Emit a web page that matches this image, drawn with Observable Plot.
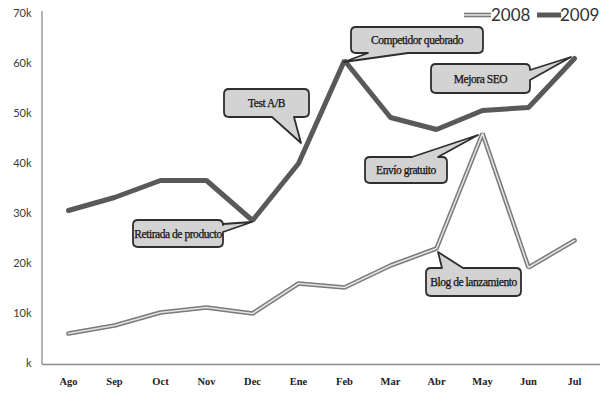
<!DOCTYPE html>
<html><head><meta charset="utf-8">
<script src="https://cdn.jsdelivr.net/npm/d3@7"></script>
<script src="https://cdn.jsdelivr.net/npm/@observablehq/plot@0.6"></script>
<style>
body{margin:0;background:#fff}
#chart{position:relative;width:603px;height:395px;overflow:hidden}
</style>
</head><body><div id="chart"></div>
<script>
// ---- data ----
const months = ["Ago","Sep","Oct","Nov","Dec","Ene","Feb","Mar","Abr","May","Jun","Jul"];
const values2008 = [6000,7600,10200,11200,10000,16000,15200,19600,23000,46000,19200,24600];
const values2009 = [30600,33200,36600,36600,28600,40000,60600,49200,46800,50600,51200,61000];
const seriesNames = ["2008","2009"];
const yTicks = [0,10000,20000,30000,40000,50000,60000,70000];
const yTickLabels = ["k","10k","20k","30k","40k","50k","60k","70k"];
const calloutLabels = ["Test A/B","Competidor quebrado","Mejora SEO","Envío gratuito","Retirada de producto","Blog de lanzamiento"];
const calloutMonths = ["Ene","Feb","Jul","May","Dec","Abr"];
const calloutSeries = ["2009","2009","2009","2008","2009","2008"];

const rows2008 = months.map((m,i)=>({month:m, value:values2008[i], series:seriesNames[0]}));
const rows2009 = months.map((m,i)=>({month:m, value:values2009[i], series:seriesNames[1]}));
const bySeries = {"2008": values2008, "2009": values2009};

const serif = "'Liberation Serif', 'DejaVu Serif', serif";
const sans = "Lato, 'Open Sans', sans-serif";

const plot = Plot.plot({
  width: 603, height: 395,
  marginLeft: 42, marginRight: 3, marginTop: 13, marginBottom: 32,
  x: {type: "point", domain: months, padding: 0.5, axis: null},
  y: {domain: [0, 70000], axis: null},
  style: {background: "white"},
  marks: [
    Plot.ruleY([0], {stroke: "#8a8a8a", strokeWidth: 1.3, dy: 1}),
    Plot.text(yTicks, {y: d => d, text: (d,i) => yTickLabels[i], frameAnchor: "left", dx: -11, textAnchor: "end",
      fontFamily: sans, fontSize: 11, fill: "#3a3a3a"}),
    Plot.text(months, {x: d => d, text: d => d, frameAnchor: "bottom", dy: 21,
      fontFamily: serif, fontSize: 10.5, fontWeight: "bold", fill: "#222"}),
    Plot.line(rows2008, {x: "month", y: "value", stroke: "#7a7a7a", strokeWidth: 4.6, strokeLinejoin: "miter", strokeLinecap: "round"}),
    Plot.line(rows2008, {x: "month", y: "value", stroke: "#e2e2e2", strokeWidth: 1.6, strokeLinejoin: "miter", strokeLinecap: "round"}),
    Plot.line(rows2009, {x: "month", y: "value", stroke: "#595959", strokeWidth: 5, strokeLinejoin: "miter", strokeLinecap: "round"})
  ]
});
document.getElementById("chart").appendChild(plot);

const xs = plot.scale("x"), ys = plot.scale("y");
const X = v => xs.apply(v), Y = v => ys.apply(v);
const svg = d3.select(plot);

// y axis line
svg.append("line").attr("x1", 42).attr("x2", 42).attr("y1", 11).attr("y2", Y(0) + 1)
  .attr("stroke", "#8a8a8a").attr("stroke-width", 1.3);

// callouts (layout in pixels relative to the anchored data point)
const calloutLayout = {
  "Test A/B":             {tip: [3, -20], box: [-74, -74, 11, -46], side: "bottom", base: [-26, -4]},
  "Competidor quebrado":  {tip: [0, 2],   box: [7, -33, 139, -7],   side: "bottom", base: [24, 64]},
  "Mejora SEO":           {tip: [-3, -1], box: [-143, 6, -44, 35],  side: "right",  base: [12, 22]},
  "Envío gratuito":       {tip: [-4, 2],  box: [-117, 24, -35, 50], side: "top",    base: [-70, -44]},
  "Retirada de producto": {tip: [0, 2],   box: [-119, 0, -29, 27],  side: "right",  base: [4, 12]},
  "Blog de lanzamiento":  {tip: [2, 4],   box: [-10, 20, 85, 48],   side: "top",    base: [6, 27]}
};

function calloutPath(x0,y0,x1,y1,r,side,b1,b2,tx,ty){
  let p = `M${x0+r},${y0}`;
  if (side === "top") p += `L${b1},${y0}L${tx},${ty}L${b2},${y0}`;
  p += `L${x1-r},${y0}Q${x1},${y0} ${x1},${y0+r}`;
  if (side === "right") p += `L${x1},${b1}L${tx},${ty}L${x1},${b2}`;
  p += `L${x1},${y1-r}Q${x1},${y1} ${x1-r},${y1}`;
  if (side === "bottom") p += `L${b2},${y1}L${tx},${ty}L${b1},${y1}`;
  p += `L${x0+r},${y1}Q${x0},${y1} ${x0},${y1-r}`;
  if (side === "left") p += `L${x0},${b2}L${tx},${ty}L${x0},${b1}`;
  p += `L${x0},${y0+r}Q${x0},${y0} ${x0+r},${y0}Z`;
  return p;
}

const g = svg.append("g").attr("aria-label", "callouts");
calloutLabels.forEach((label, i) => {
  const m = calloutMonths[i];
  const v = bySeries[calloutSeries[i]][months.indexOf(m)];
  const ax = X(m), ay = Y(v);
  const L = calloutLayout[label];
  const tx = ax + L.tip[0], ty = ay + L.tip[1];
  const x0 = ax + L.box[0], y0 = ay + L.box[1], x1 = ax + L.box[2], y1 = ay + L.box[3];
  const horiz = (L.side === "top" || L.side === "bottom");
  const b1 = (horiz ? ax : ay) + L.base[0], b2 = (horiz ? ax : ay) + L.base[1];
  g.append("path").attr("d", calloutPath(x0, y0, x1, y1, 5, L.side, b1, b2, tx, ty))
    .attr("fill", "#d3d3d3").attr("stroke", "#2e2e2e").attr("stroke-width", 1.8).attr("stroke-linejoin", "round");
  g.append("text").attr("x", (x0 + x1) / 2).attr("y", (y0 + y1) / 2).attr("dy", "0.35em")
    .attr("text-anchor", "middle").attr("font-family", serif).attr("font-size", 11.5)
    .attr("letter-spacing", "-0.45px")
    .attr("fill", "#111").attr("stroke", "#111").attr("stroke-width", 0.25).text(label);
});

// legend
const legend = svg.append("g").attr("aria-label", "legend").attr("text-anchor", "start");
const ly = 15;
legend.append("line").attr("x1", 464).attr("x2", 491).attr("y1", ly).attr("y2", ly).attr("stroke", "#7a7a7a").attr("stroke-width", 4.6);
legend.append("line").attr("x1", 464).attr("x2", 491).attr("y1", ly).attr("y2", ly).attr("stroke", "#e2e2e2").attr("stroke-width", 1.6);
legend.append("text").attr("x", 491).attr("y", ly + 6).attr("text-anchor", "start").attr("font-family", sans).attr("font-size", 17).attr("fill", "#333").text(seriesNames[0]);
legend.append("line").attr("x1", 537).attr("x2", 561).attr("y1", ly).attr("y2", ly).attr("stroke", "#595959").attr("stroke-width", 5);
legend.append("text").attr("x", 560).attr("y", ly + 6).attr("text-anchor", "start").attr("font-family", sans).attr("font-size", 17).attr("fill", "#333").text(seriesNames[1]);
</script>
</body></html>
